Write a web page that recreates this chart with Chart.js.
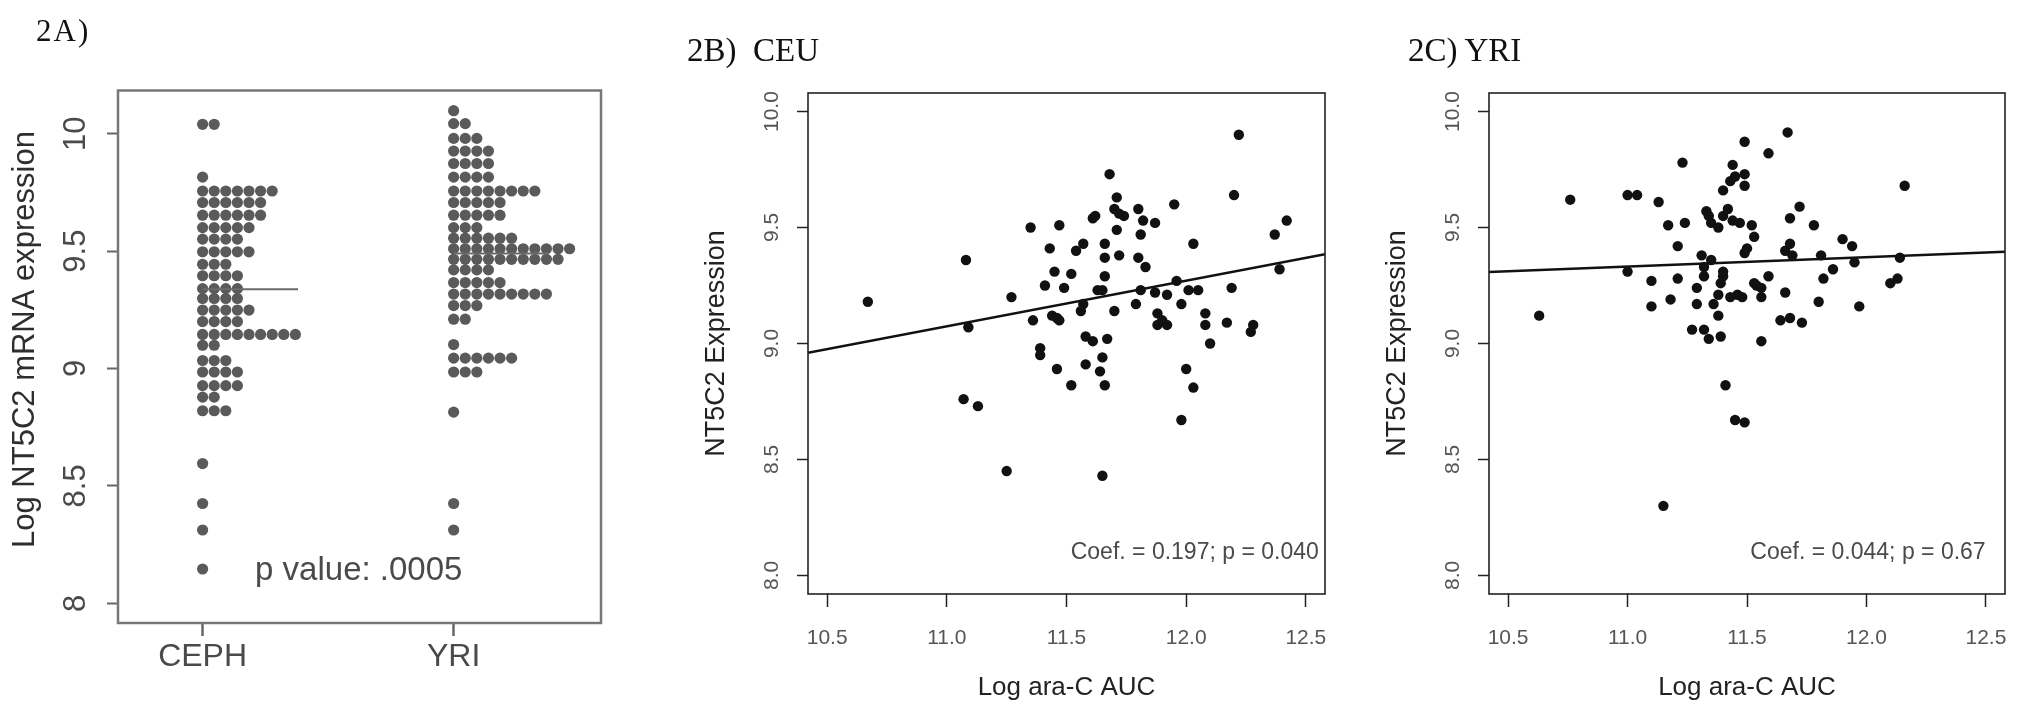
<!DOCTYPE html>
<html>
<head>
<meta charset="utf-8">
<script src="https://cdn.jsdelivr.net/npm/chart.js@4.4.1/dist/chart.umd.min.js"></script>
<style>
  html, body { margin: 0; padding: 0; background: #fff; }
  body { width: 2017px; height: 718px; position: relative; overflow: hidden; }
  .panel { position: absolute; top: 0; height: 718px; }
  .tag { position: absolute; z-index: 2; font-family: 'Liberation Serif', 'Times New Roman', serif; color: #111; line-height: 1; white-space: pre; }
</style>
</head>
<body>
<div class="panel" style="left:0; width:700px;"><canvas id="panelA"></canvas></div>
<div class="panel" style="left:700px; width:640px;"><canvas id="panelB"></canvas></div>
<div class="panel" style="left:1381px; width:636px;"><canvas id="panelC"></canvas></div>
<div class="tag" style="left:36px; top:15px; font-size:31px; letter-spacing:2px;">2A)</div>
<div class="tag" style="left:687px; top:34px; font-size:33px;">2B)  CEU</div>
<div class="tag" style="left:1408px; top:34px; font-size:33px;">2C) YRI</div>
<script>
// 2A) stacked strip chart, rows are [log expression, dots in the row]
const groups = ['CEPH', 'YRI'];
const cephRows = [
    [10.04, 2], [9.815, 1], [9.756, 7], [9.707, 6], [9.653, 6], [9.60, 5],
    [9.551, 4], [9.497, 5], [9.444, 3], [9.395, 4], [9.34, 4], [9.298, 4],
    [9.249, 5], [9.20, 4], [9.145, 9], [9.099, 2], [9.034, 3], [8.985, 4],
    [8.927, 4], [8.878, 2], [8.82, 3], [8.595, 1], [8.425, 1], [8.312, 1],
    [8.146, 1],
];
const yriRows = [
    [10.098, 1], [10.043, 2], [9.98, 3], [9.926, 4], [9.873, 4], [9.815, 4],
    [9.756, 8], [9.707, 5], [9.653, 5], [9.60, 3], [9.555, 6], [9.51, 11],
    [9.465, 10], [9.42, 4], [9.366, 5], [9.317, 9], [9.268, 3], [9.21, 2],
    [9.102, 1], [9.044, 6], [8.985, 3], [8.814, 1], [8.425, 1], [8.312, 1],
];
const groupMeans = [9.338, 9.49];
const stripTicks = [8, 8.5, 9, 9.5, 10];

// 2B) CEU: [log ara-C AUC, NT5C2 expression]
const ceuSamples = [
    [10.67, 9.18], [11.08, 9.36], [11.09, 9.07], [11.07, 8.76], [11.13, 8.73],
    [11.25, 8.45], [11.27, 9.20], [11.35, 9.50], [11.36, 9.10], [11.39, 8.98],
    [11.39, 8.95], [11.41, 9.25], [11.43, 9.41], [11.45, 9.31], [11.44, 9.12],
    [11.46, 9.11], [11.47, 9.10], [11.46, 8.89], [11.47, 9.51], [11.49, 9.24],
    [11.52, 9.30], [11.52, 8.82], [11.54, 9.40], [11.57, 9.43], [11.56, 9.14],
    [11.57, 9.17], [11.58, 8.91], [11.58, 9.03], [11.61, 9.01], [11.61, 9.54],
    [11.62, 9.55], [11.63, 9.23], [11.65, 9.23], [11.66, 9.43], [11.66, 9.37],
    [11.66, 9.29], [11.65, 8.94], [11.64, 8.88], [11.66, 8.82], [11.65, 8.43],
    [11.67, 9.02], [11.68, 9.73], [11.71, 9.63], [11.70, 9.58], [11.72, 9.56],
    [11.74, 9.55], [11.71, 9.49], [11.72, 9.38], [11.70, 9.14], [11.79, 9.17],
    [11.80, 9.58], [11.82, 9.53], [11.81, 9.47], [11.80, 9.37], [11.83, 9.33],
    [11.81, 9.23], [11.87, 9.52], [11.87, 9.22], [11.88, 9.13], [11.88, 9.08],
    [11.90, 9.10], [11.92, 9.08], [11.92, 9.21], [11.95, 9.60], [11.96, 9.27],
    [11.98, 9.17], [11.98, 8.67], [12.00, 8.89], [12.01, 9.23], [12.03, 9.43],
    [12.05, 9.23], [12.03, 8.81], [12.08, 9.13], [12.08, 9.08], [12.10, 9.00],
    [12.17, 9.09], [12.19, 9.24], [12.20, 9.64], [12.22, 9.90], [12.27, 9.05],
    [12.28, 9.08], [12.37, 9.47], [12.39, 9.32], [12.42, 9.53],
];
const ceuFit = [[10.42, 8.96], [12.58, 9.385]];

// 2C) YRI
const yriSamples = [
    [10.63, 9.12], [10.76, 9.62], [11.00, 9.64], [11.04, 9.64], [11.00, 9.31],
    [11.10, 9.27], [11.10, 9.16], [11.13, 9.61], [11.17, 9.51], [11.18, 9.19],
    [11.21, 9.42], [11.21, 9.28], [11.23, 9.78], [11.24, 9.52], [11.15, 8.30],
    [11.27, 9.06], [11.29, 9.24], [11.29, 9.17], [11.31, 9.38], [11.32, 9.06],
    [11.33, 9.57], [11.34, 9.55], [11.35, 9.52], [11.32, 9.33], [11.32, 9.29],
    [11.34, 9.02], [11.35, 9.36], [11.36, 9.17], [11.38, 9.50], [11.38, 9.12],
    [11.39, 9.03], [11.38, 9.21], [11.39, 9.26], [11.40, 9.55], [11.40, 9.66],
    [11.40, 9.31], [11.40, 9.29], [11.41, 8.82], [11.42, 9.58], [11.43, 9.20],
    [11.43, 9.70], [11.44, 9.77], [11.45, 9.72], [11.44, 9.53], [11.45, 8.67],
    [11.46, 9.21], [11.47, 9.52], [11.48, 9.20], [11.49, 9.68], [11.49, 9.73],
    [11.49, 9.87], [11.49, 8.66], [11.49, 9.39], [11.50, 9.41], [11.52, 9.51],
    [11.53, 9.46], [11.53, 9.26], [11.54, 9.25], [11.56, 9.24], [11.56, 9.20],
    [11.56, 9.01], [11.59, 9.82], [11.59, 9.29], [11.64, 9.10], [11.66, 9.22],
    [11.66, 9.40], [11.68, 9.43], [11.67, 9.91], [11.68, 9.11], [11.68, 9.54],
    [11.69, 9.38], [11.72, 9.59], [11.73, 9.09], [11.78, 9.51], [11.80, 9.18],
    [11.81, 9.38], [11.82, 9.28], [11.86, 9.32], [11.90, 9.45], [11.94, 9.42],
    [11.95, 9.35], [11.97, 9.16], [12.10, 9.26], [12.13, 9.28], [12.14, 9.37],
    [12.16, 9.68],
];
const yriFit = [[10.42, 9.308], [12.58, 9.396]];
const aucTicks = [10.5, 11, 11.5, 12, 12.5];
const exprTicks = [8, 8.5, 9, 9.5, 10];

Chart.defaults.font.family = '"Liberation Sans", Arial, sans-serif';
Chart.defaults.animation = false;

// box around the plot region, like R's box()
const frame = {
    id: 'frame',
    afterDatasetsDraw(chart, args, opts) {
        const { ctx, chartArea: a } = chart;
        ctx.save();
        ctx.strokeStyle = opts.color;
        ctx.lineWidth = opts.width;
        ctx.strokeRect(a.left, a.top, a.right - a.left, a.bottom - a.top);
        ctx.restore();
    },
};

// one text annotation placed in data coordinates
const note = {
    id: 'note',
    afterDatasetsDraw(chart, args, opts) {
        if (!opts.text) return;
        const { ctx, scales } = chart;
        ctx.save();
        ctx.font = opts.font;
        ctx.fillStyle = opts.color;
        ctx.textAlign = opts.align;
        ctx.textBaseline = 'middle';
        ctx.fillText(opts.text, scales.x.getPixelForValue(opts.x), scales.y.getPixelForValue(opts.y));
        ctx.restore();
    },
};

const dotStep = 0.0462; // horizontal offset between stacked dots
const meanLen = 0.38;

function stackRows(rows, pos) {
    return rows.flatMap(([v, n]) =>
        Array.from({ length: n }, (_, k) => ({ x: pos + k * dotStep, y: v }))
    );
}

/* 2A) CEPH vs YRI */
new Chart(document.getElementById('panelA'), {
    type: 'scatter',
    data: {
        datasets: [
            ...groupMeans.map((m, i) => ({
                type: 'line',
                data: [{ x: i + 1, y: m }, { x: i + 1 + meanLen, y: m }],
                borderColor: '#6a6a6a',
                borderWidth: 2,
                pointRadius: 0,
            })),
            {
                data: stackRows(cephRows, 1).concat(stackRows(yriRows, 2)),
                pointRadius: 5.6,
                pointBackgroundColor: '#5a5a5a',
                pointBorderWidth: 0,
            },
        ],
    },
    options: {
        responsive: true,
        maintainAspectRatio: false,
        layout: { padding: { top: 90.5, right: 99, bottom: 0, left: 0 } },
        plugins: {
            legend: { display: false },
            tooltip: { enabled: false },
            frame: { color: '#777777', width: 2.5 },
            note: {
                text: 'p value: .0005',
                x: 1.209,
                y: 8.136,
                align: 'left',
                font: '33px "Liberation Sans", Arial, sans-serif',
                color: '#4a4a4a',
            },
        },
        scales: {
            x: {
                type: 'linear',
                min: 0.663,
                max: 2.587,
                border: { display: false },
                grid: { drawOnChartArea: false, tickLength: 13, tickColor: '#666', tickWidth: 2.5 },
                afterBuildTicks: (s) => { s.ticks = groups.map((g, i) => ({ value: i + 1 })); },
                afterFit: (s) => { s.height = 95; },
                ticks: {
                    color: '#4a4a4a',
                    font: { size: 32 },
                    padding: 1.8,
                    minRotation: 0,
                    maxRotation: 0,
                    callback: (v) => groups[v - 1],
                },
            },
            y: {
                min: 7.916,
                max: 10.184,
                border: { display: false },
                grid: { drawOnChartArea: false, tickLength: 11, tickColor: '#666', tickWidth: 2 },
                afterBuildTicks: (s) => { s.ticks = stripTicks.map((v) => ({ value: v })); },
                afterFit: (s) => { s.width = 118; },
                ticks: {
                    color: '#4a4a4a',
                    font: { size: 31 },
                    padding: 8.5,
                    minRotation: 90,
                    maxRotation: 90,
                    crossAlign: 'center',
                    callback: (v) => String(v),
                },
                title: {
                    display: true,
                    text: '    Log NT5C2 mRNA expression',
                    color: '#2e2e2e',
                    font: { size: 31 },
                    padding: { top: 6.4, bottom: 0 },
                },
            },
        },
    },
    plugins: [frame, note],
});

/* 2B) and 2C) expression against ara-C AUC */
function scatterPanel(id, samples, fit, rightPad, noteText, noteX) {
    new Chart(document.getElementById(id), {
        type: 'scatter',
        data: {
            datasets: [
                {
                    type: 'line',
                    data: fit.map(([x, y]) => ({ x, y })),
                    borderColor: '#111',
                    borderWidth: 2.5,
                    pointRadius: 0,
                },
                {
                    data: samples.map(([x, y]) => ({ x, y })),
                    pointRadius: 5.2,
                    pointBackgroundColor: '#111',
                    pointBorderWidth: 0,
                },
            ],
        },
        options: {
            responsive: true,
            maintainAspectRatio: false,
            layout: { padding: { top: 93, right: rightPad, bottom: 0, left: 0 } },
            plugins: {
                legend: { display: false },
                tooltip: { enabled: false },
                frame: { color: '#222', width: 1.6 },
                note: {
                    text: noteText,
                    x: noteX,
                    y: 8.1,
                    align: 'right',
                    font: '23px "Liberation Sans", Arial, sans-serif',
                    color: '#4a4a4a',
                },
            },
            scales: {
                x: {
                    type: 'linear',
                    min: 10.42,
                    max: 12.58,
                    border: { display: false },
                    grid: { drawOnChartArea: false, tickLength: 13, tickColor: '#222', tickWidth: 1.5 },
                    afterBuildTicks: (s) => { s.ticks = aucTicks.map((v) => ({ value: v })); },
                    afterFit: (s) => { s.height = 124; },
                    ticks: {
                        color: '#555',
                        font: { size: 21, lineHeight: 2.4 },
                        padding: 5.8,
                        minRotation: 0,
                        maxRotation: 0,
                        callback: (v) => v.toFixed(1),
                    },
                    title: {
                        display: true,
                        text: 'Log ara-C AUC',
                        color: '#222',
                        font: { size: 26 },
                        padding: { top: 0, bottom: 14.4 },
                    },
                },
                y: {
                    min: 7.92,
                    max: 10.08,
                    border: { display: false },
                    grid: { drawOnChartArea: false, tickLength: 11, tickColor: '#222', tickWidth: 1.5 },
                    afterBuildTicks: (s) => { s.ticks = exprTicks.map((v) => ({ value: v })); },
                    afterFit: (s) => { s.width = 108; },
                    ticks: {
                        color: '#555',
                        font: { size: 21 },
                        padding: 4.6,
                        minRotation: 90,
                        maxRotation: 90,
                        crossAlign: 'center',
                        callback: (v) => v.toFixed(1),
                    },
                    title: {
                        display: true,
                        text: 'NT5C2 Expression',
                        color: '#222',
                        font: { size: 27 },
                        padding: { top: 0.8, bottom: 0 },
                    },
                },
            },
        },
        plugins: [frame, note],
    });
}

scatterPanel('panelB', ceuSamples, ceuFit, 15, 'Coef. = 0.197; p = 0.040', 12.554);
scatterPanel('panelC', yriSamples, yriFit, 12, 'Coef. = 0.044; p = 0.67', 12.499);
</script>
</body>
</html>
